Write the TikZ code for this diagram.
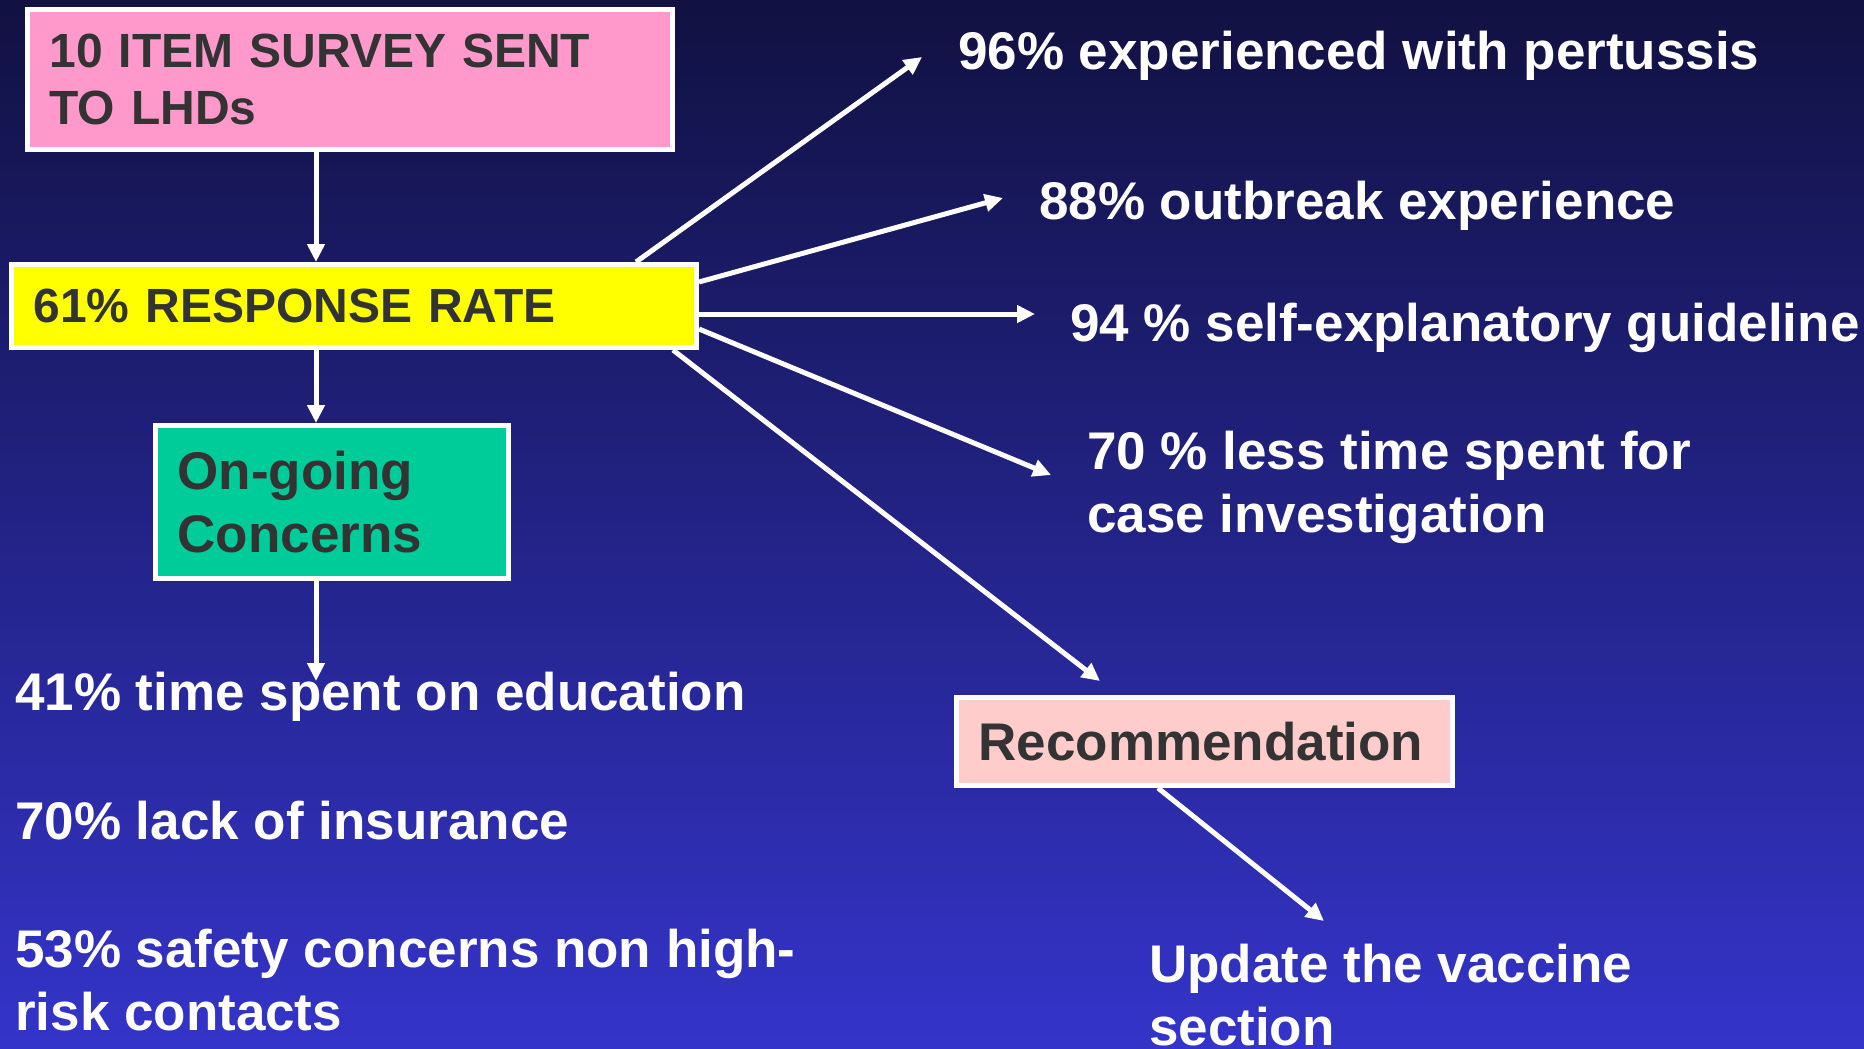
\documentclass[tikz,border=0pt]{standalone}
\usepackage{fontspec}
\setmainfont{Liberation Sans}
\usetikzlibrary{arrows.meta}
\definecolor{bgtop}{RGB}{17,17,66}
\definecolor{bgbot}{RGB}{52,52,202}
\definecolor{ink}{RGB}{51,51,51}
\definecolor{surveypink}{RGB}{255,153,204}
\definecolor{respyellow}{RGB}{255,255,0}
\definecolor{concerngreen}{RGB}{0,204,153}
\definecolor{recpink}{RGB}{255,204,204}
\begin{document}
\begin{tikzpicture}[x=1pt,y=-1pt,
  box/.style={draw=white, line width=5pt, text=ink, align=left, inner ysep=0pt, inner xsep=22pt},
  bigtext/.style={font=\fontsize{53}{63}\selectfont\bfseries},
  midtext/.style={font=\fontsize{48}{57}\selectfont\bfseries},
  note/.style={text=white, anchor=base west, inner sep=0pt, align=left, font=\fontsize{53}{63}\selectfont\bfseries},
  link/.style={draw=white, line width=5pt, -{Triangle[length=18pt,width=17pt]}},
]
% background
\useasboundingbox (0,0) rectangle (1864,1049);
\shade[top color=bgtop, bottom color=bgbot] (0,0) rectangle (1864,1049);

% boxes
\node[box, midtext, fill=surveypink, minimum width=645pt, minimum height=140pt, text width=601pt]
  (survey) at (350,79.5) {10 ITEM SURVEY SENT\\TO LHDs};
\node[box, midtext, fill=respyellow, minimum width=685pt, minimum height=83pt, text width=641pt]
  (resp) at (354,306) {61\% RESPONSE RATE};
\node[box, bigtext, fill=concerngreen, minimum width=353pt, minimum height=153pt, text width=309pt]
  (concern) at (332,502) {On-going\\Concerns};
\node[box, bigtext, fill=recpink, minimum width=496pt, minimum height=88pt, text width=452pt]
  (rec) at (1204.5,741.5) {Recommendation};

% findings (multi-line nodes are placed by the baseline of their last line)
\node[note] (n96) at (958,70) {96\% experienced with pertussis};
\node[note] (n88) at (1039,219) {88\% outbreak experience};
\node[note] (n94) at (1070,341) {94 \% self-explanatory guideline};
\node[note] (n70) at (1087,532) {70 \% less time spent for\\case investigation};
\node[note] (n41) at (15,710) {41\% time spent on education};
\node[note] (nins) at (15,839) {70\% lack of insurance};
\node[note] (n53) at (15,1030) {53\% safety concerns non high-\\risk contacts};
\node[note] (nupd) at (1149,1045) {Update the vaccine\\section};

% arrow ends
\coordinate (t96) at (922,57);
\coordinate (t88) at (1003,198);
\coordinate (t94) at (1035,314);
\coordinate (t70) at (1051,475);
\coordinate (trec) at (1100,681);
\coordinate (t41) at (316,681);
\coordinate (tupd) at (1324,921);

% connectors
\draw[link] ([xshift=-34pt]survey.south) -- ([xshift=-38pt]resp.north);
\draw[link] ([xshift=-38pt]resp.south) -- ([xshift=-16pt]concern.north);
\draw[link] ([xshift=-16pt]concern.south) -- (t41);
\draw[link] ([xshift=282pt]resp.north) -- (t96);
\draw[link] ([yshift=24pt]resp.east) -- (t88);
\draw[link] ([yshift=-8pt]resp.east) -- (t94);
\draw[link] ([yshift=-23pt]resp.east) -- (t70);
\draw[link] ([xshift=319pt]resp.south) -- (trec);
\draw[link] ([xshift=-46.5pt]rec.south) -- (tupd);
\end{tikzpicture}
\end{document}
